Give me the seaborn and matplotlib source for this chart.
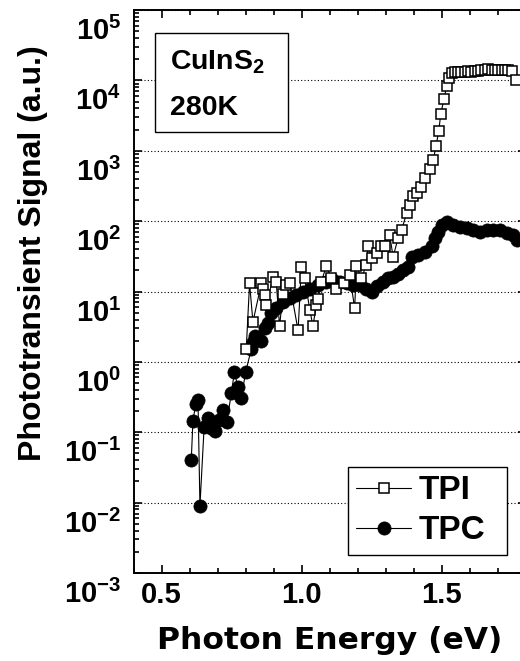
import matplotlib
matplotlib.use("Agg")
import numpy as np
import pandas as pd
import seaborn as sns
import matplotlib.pyplot as plt
from matplotlib.transforms import ScaledTranslation
from matplotlib.ticker import MultipleLocator, LogLocator, NullFormatter
from matplotlib.patches import Rectangle

# ---------------- data ----------------
tpi_energy = [0.802, 0.814, 0.826, 0.856, 0.862, 0.868, 0.874, 0.898, 0.909, 0.921,
              0.933, 0.945, 0.957, 0.987, 0.999, 1.010, 1.029, 1.040, 1.052, 1.058,
              1.070, 1.088, 1.105, 1.124, 1.150, 1.171, 1.189, 1.195, 1.213, 1.231,
              1.237, 1.249, 1.267, 1.284, 1.296, 1.314, 1.326, 1.344, 1.356, 1.374,
              1.386, 1.398, 1.410, 1.427, 1.439, 1.457, 1.469, 1.479, 1.489, 1.496,
              1.508, 1.517, 1.526, 1.535, 1.545, 1.557, 1.569, 1.581, 1.593, 1.605,
              1.617, 1.629, 1.641, 1.653, 1.665, 1.677, 1.689, 1.701, 1.713, 1.725,
              1.737, 1.749, 1.765]
tpi_signal = [1.5, 13, 3.7, 13, 11, 9, 6.4, 16, 13.8, 3.2,
              9.3, 12.3, 13, 2.8, 22.6, 15.5, 5.5, 3.2, 6.4, 7.7,
              13.8, 23, 15.5, 11, 13, 17, 5.8, 23, 15.5, 24,
              45, 29.5, 35, 44, 45, 63, 31, 58, 74, 129,
              169, 224, 250, 309, 407, 549, 728, 1170, 1920, 3370,
              5500, 8340, 10700, 12600, 13000, 13200, 13300, 13300, 13400, 13200,
              13500, 13800, 14000, 14200, 14300, 14200, 14000, 14100, 14000, 13900,
              13900, 13800, 10000]

tpc_energy = [0.606, 0.612, 0.622, 0.630, 0.637, 0.652, 0.664, 0.678, 0.692, 0.706,
              0.719, 0.733, 0.749, 0.760, 0.772, 0.785, 0.800, 0.820, 0.827, 0.833,
              0.845, 0.856, 0.868, 0.880, 0.892, 0.910, 0.933, 0.957, 0.981, 1.005,
              1.029, 1.058, 1.088, 1.112, 1.136, 1.160, 1.183, 1.207, 1.231, 1.249,
              1.267, 1.290, 1.309, 1.326, 1.344, 1.362, 1.380, 1.392, 1.416, 1.439,
              1.463, 1.475, 1.487, 1.499, 1.517, 1.540, 1.564, 1.588, 1.612, 1.636,
              1.660, 1.683, 1.707, 1.731, 1.755, 1.767]
tpc_signal = [0.040, 0.145, 0.25, 0.29, 0.009, 0.12, 0.16, 0.115, 0.105, 0.15,
              0.21, 0.14, 0.36, 0.72, 0.44, 0.31, 0.72, 1.5, 1.9, 2.3,
              2.1, 2.0, 3.0, 3.6, 4.9, 5.8, 7.0, 8.0, 8.9, 10,
              11, 12.3, 13.8, 14.5, 13.8, 13, 12.3, 12.3, 11, 10,
              11.8, 13.8, 15.5, 16, 18, 20, 22.6, 31, 33, 37,
              44, 58, 71, 88, 98, 88, 83, 79, 75, 71,
              74, 74, 74, 68, 63, 54]

y_ticks = [1e-3, 1e-2, 1e-1, 1e0, 1e1, 1e2, 1e3, 1e4, 1e5]
y_tick_labels = [r"$\mathbf{10^{-3}}$", r"$\mathbf{10^{-2}}$", r"$\mathbf{10^{-1}}$",
                 r"$\mathbf{10^{0}}$", r"$\mathbf{10^{1}}$", r"$\mathbf{10^{2}}$",
                 r"$\mathbf{10^{3}}$", r"$\mathbf{10^{4}}$", r"$\mathbf{10^{5}}$"]
x_ticks = [0.5, 1.0, 1.5]
x_tick_labels = ["0.5", "1.0", "1.5"]

# ---------------- style ----------------
sns.set_style("ticks")
plt.rcParams["font.family"] = ["Liberation Sans", "DejaVu Sans"]
plt.rcParams["font.weight"] = "bold"
plt.rcParams["mathtext.fontset"] = "custom"
plt.rcParams["mathtext.rm"] = "Liberation Sans:bold"
plt.rcParams["mathtext.bf"] = "Liberation Sans:bold"
plt.rcParams["mathtext.it"] = "Liberation Sans:bold"
plt.rcParams["mathtext.default"] = "bf"
for key in ["text.color", "axes.labelcolor", "xtick.color", "ytick.color",
            "axes.edgecolor", "xtick.labelcolor", "ytick.labelcolor"]:
    plt.rcParams[key] = "black"

W, H = 520, 661
DPI = 100
fig = plt.figure(figsize=(W / DPI, H / DPI), dpi=DPI)
L, R, T, B = 133.5, 526.0, 10.0, 573.0
ax = fig.add_axes([L / W, 1 - B / H, (R - L) / W, (B - T) / H])
ax.set_yscale("log")

df_tpi = pd.DataFrame({"energy": tpi_energy, "signal": tpi_signal})
df_tpc = pd.DataFrame({"energy": tpc_energy, "signal": tpc_signal})

sns.lineplot(data=df_tpc, x="energy", y="signal", estimator=None, sort=False, ax=ax,
             color="black", linewidth=0.8, marker="o", markersize=9.5,
             markerfacecolor="black", markeredgecolor="black", markeredgewidth=0.5,
             label="TPC", zorder=3)
sns.lineplot(data=df_tpi, x="energy", y="signal", estimator=None, sort=False, ax=ax,
             color="black", linewidth=0.8, marker="s", markersize=7.5,
             markerfacecolor="white", markeredgecolor="black", markeredgewidth=1.1,
             label="TPI", zorder=4)

ax.set_xlim(0.4, 1.8)
ax.set_ylim(1e-3, 1e5)

# ticks
ax.set_xticks(x_ticks)
ax.set_xticklabels(x_tick_labels)
ax.xaxis.set_minor_locator(MultipleLocator(0.1))
ax.set_yticks(y_ticks)
ax.set_yticklabels(y_tick_labels)
ax.yaxis.set_minor_locator(LogLocator(base=10, subs=np.arange(2, 10), numticks=50))
ax.yaxis.set_minor_formatter(NullFormatter())

ax.tick_params(axis="both", which="both", direction="in", top=True, right=True,
               width=1.2, color="black", labelcolor="black")
ax.tick_params(axis="both", which="major", length=5.8)
ax.tick_params(axis="both", which="minor", length=3.6)
ax.tick_params(axis="x", which="major", pad=6, labelsize=21)
ax.tick_params(axis="y", which="major", pad=9, labelsize=21)
for lab in ax.get_xticklabels():
    lab.set_fontweight("bold")

offset = ScaledTranslation(0, -30 / DPI, fig.dpi_scale_trans)
for tk in ax.yaxis.get_major_ticks():
    tk.label1.set_verticalalignment("baseline")
    tk.label1.set_transform(tk.label1.get_transform() + offset)

for sp in ax.spines.values():
    sp.set_linewidth(1.4)
    sp.set_color("black")

ax.grid(False)
ax.yaxis.grid(True, which="major", linestyle=(0, (1, 2)), color="black", linewidth=0.8)
ax.set_axisbelow(True)

# axis labels
ax.set_xlabel("Photon Energy (eV)", fontsize=22.6, fontweight="bold",
              fontfamily=["DejaVu Sans"], color="black")
ax.xaxis.label.set_verticalalignment("baseline")
ax.xaxis.set_label_coords(0.5, (B - 649) / (B - T))
ax.set_ylabel("Phototransient Signal (a.u.)", fontsize=23, fontweight="bold",
              color="black")
ax.yaxis.label.set_verticalalignment("baseline")
ax.yaxis.set_label_coords((41 - L) / (R - L), (B - 253) / (B - T))

# legend (box from x=348..507, y=467..552 px)
handles, labels = ax.get_legend_handles_labels()
hmap = dict(zip(labels, handles))
lx0 = (348 - L) / (R - L)
lw_ = (507 - 348) / (R - L)
ly1 = (B - 467) / (B - T)
lh = (552 - 467) / (B - T)
leg = ax.legend([hmap["TPI"], hmap["TPC"]], ["TPI", "TPC"], loc="upper left",
                bbox_to_anchor=(lx0, ly1 - lh, lw_, lh), mode="expand",
                borderaxespad=0, frameon=True, fancybox=False, edgecolor="black",
                framealpha=1, numpoints=1, handlelength=1.65, handletextpad=0.21,
                borderpad=0.25, labelspacing=0.27, labelcolor="black",
                prop={"weight": "bold", "size": 24, "family": "Liberation Sans"})
leg.get_frame().set_linewidth(1.0)
leg.set_zorder(10)

# sample / temperature box
def fx(px):
    return px / W

def fy(py):
    return 1 - py / H

rect = Rectangle((fx(155), fy(132)), fx(288) - fx(155), fy(33) - fy(132),
                 transform=fig.transFigure, facecolor="white", edgecolor="black",
                 linewidth=1.0, zorder=8)
ax.add_patch(rect)
ax.text(fx(170), fy(70), r"CuInS$_{\mathbf{2}}$", transform=fig.transFigure,
        fontsize=20.5, fontweight="bold", ha="left", va="baseline", zorder=9,
        color="black")
ax.text(fx(170), fy(115), "280K", transform=fig.transFigure,
        fontsize=20.5, fontweight="bold", ha="left", va="baseline", zorder=9,
        color="black")

fig.savefig("out.png", dpi=DPI)
